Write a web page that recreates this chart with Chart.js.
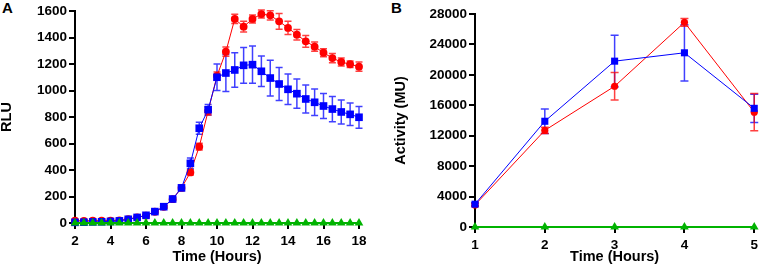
<!DOCTYPE html>
<html>
<head>
<meta charset="utf-8">
<script src="https://cdn.jsdelivr.net/npm/chart.js@4"></script>
<style>
  body { margin: 0; background: #fff; width: 762px; height: 270px; position: relative; overflow: hidden; }
  .panel { position: absolute; top: 0; }
  .letter { position: absolute; font: bold 15px "Liberation Sans", Arial, sans-serif; color: #000; }
</style>
</head>
<body>
<div class="letter" style="left:2px;top:-1px;">A</div>
<div class="letter" style="left:391px;top:-1px;">B</div>
<canvas id="chartA" class="panel" style="left:0px" width="385" height="270"></canvas>
<canvas id="chartB" class="panel" style="left:390px" width="372" height="270"></canvas>
<script>
// Panel A data (RLU over time)
const hoursA = [2, 2.5, 3, 3.5, 4, 4.5, 5, 5.5, 6, 6.5, 7, 7.5, 8, 8.5, 9, 9.5, 10, 10.5, 11, 11.5, 12, 12.5, 13, 13.5, 14, 14.5, 15, 15.5, 16, 16.5, 17, 17.5, 18];
const redA = [18, 16, 18, 17, 18, 20, 30, 42, 56, 85, 122, 180, 265, 382, 576, 845, 1110, 1293, 1540, 1482, 1540, 1577, 1567, 1522, 1472, 1421, 1371, 1331, 1285, 1245, 1215, 1198, 1180];
const redErrA = [5, 5, 5, 5, 5, 5, 5, 5, 5, 8, 10, 12, 15, 20, 25, 30, 30, 35, 35, 40, 30, 30, 35, 60, 50, 40, 45, 35, 30, 35, 30, 25, 35];
const blueA = [5, 6, 8, 9, 12, 16, 28, 42, 58, 86, 123, 181, 265, 450, 715, 855, 1100, 1132, 1155, 1190, 1195, 1145, 1094, 1049, 1009, 976, 936, 911, 883, 860, 838, 820, 798];
const blueErrA = [3, 3, 3, 3, 3, 3, 5, 5, 5, 8, 10, 12, 20, 40, 45, 40, 100, 140, 130, 135, 140, 115, 135, 125, 115, 110, 105, 100, 95, 95, 90, 85, 82];
const greenA = [0, 0, 0, 0, 0, 0, 0, 0, 0, 0, 0, 0, 0, 0, 0, 0, 0, 0, 0, 0, 0, 0, 0, 0, 0, 0, 0, 0, 0, 0, 0, 0, 0];

// Panel B data (activity over time)
const hoursB = [1, 2, 3, 4, 5];
const redB = [2900, 12700, 18500, 26900, 15100];
const redErrB = [200, 400, 1800, 500, 2450];
const blueB = [3000, 13900, 21800, 22900, 15600];
const blueErrB = [200, 1600, 3400, 3700, 1850];
const greenB = [0, 0, 0, 0, 0];

const RED = '#ff0000';
const BLUE = '#0000ff';
const GREEN = '#00b300';
const FONT = '"Liberation Sans", Arial, sans-serif';

// draws vertical error bars with caps under the markers
const errorBars = {
  id: 'errorBars',
  beforeDatasetsDraw(chart) {
    const ctx = chart.ctx;
    const yScale = chart.scales.y;
    chart.data.datasets.forEach((ds, i) => {
      if (!ds.errors) return;
      const meta = chart.getDatasetMeta(i);
      ctx.save();
      ctx.strokeStyle = ds.errorColor;
      ctx.lineWidth = 1.5;
      meta.data.forEach((pt, j) => {
        const e = ds.errors[j];
        if (!e) return;
        const v = ds.values[j];
        const top = yScale.getPixelForValue(v + e);
        const bot = yScale.getPixelForValue(v - e);
        const w = ds.capHalf;
        ctx.beginPath();
        ctx.moveTo(pt.x, top); ctx.lineTo(pt.x, bot);
        ctx.moveTo(pt.x - w, top); ctx.lineTo(pt.x + w, top);
        ctx.moveTo(pt.x - w, bot); ctx.lineTo(pt.x + w, bot);
        ctx.stroke();
      });
      ctx.restore();
    });
  }
};

const toPoints = (xs, ys) => xs.map((x, i) => ({ x: x, y: ys[i] }));

function series(xs, ys, errs, color, style, radius, capHalf) {
  return {
    data: toPoints(xs, ys),
    values: ys,
    errors: errs,
    errorColor: color === RED ? 'rgba(255,0,0,0.75)' : 'rgba(0,0,255,0.75)',
    capHalf: capHalf,
    borderColor: color,
    backgroundColor: color,
    borderWidth: 1,
    pointStyle: style,
    pointRadius: radius,
    pointBorderWidth: 0,
    pointHoverRadius: radius,
    tension: 0,
    clip: false
  };
}

function greenSeries(xs, ys) {
  return {
    data: toPoints(xs, ys),
    borderColor: GREEN,
    backgroundColor: GREEN,
    borderWidth: 2,
    pointStyle: 'triangle',
    pointRadius: 5,
    pointBorderWidth: 0,
    tension: 0,
    clip: false
  };
}

function axis(min, max, step, titleText, fit, titlePad) {
  return {
    type: 'linear',
    min: min,
    max: max,
    ticks: {
      stepSize: step,
      color: '#000',
      font: { family: FONT, size: 13.5, weight: 'bold' },
      padding: fit.tickPad,
      callback: v => String(v)
    },
    grid: { drawOnChartArea: false, color: '#000', lineWidth: 2, tickLength: 6, tickWidth: 2 },
    border: { display: true, color: '#000', width: 2 },
    title: { display: true, text: titleText, color: '#000', font: { family: FONT, size: 14.5, weight: 'bold', lineHeight: 1 }, padding: titlePad },
    afterFit: fit.fn
  };
}

function makeOptions(xAx, yAx, pad) {
  return {
    responsive: false,
    animation: false,
    layout: { padding: pad },
    plugins: { legend: { display: false }, tooltip: { enabled: false } },
    scales: { x: xAx, y: yAx }
  };
}

// Panel A
new Chart(document.getElementById('chartA').getContext('2d'), {
  type: 'line',
  data: {
    datasets: [
      greenSeries(hoursA, greenA),
      series(hoursA, blueA, blueErrA, BLUE, 'rect', 5.4, 3.5),
      series(hoursA, redA, redErrA, RED, 'circle', 3.9, 3.5)
    ]
  },
  options: makeOptions(
    axis(2, 18, 2, 'Time (Hours)', { tickPad: 4, fn: s => { s.height = 47; } }, { top: 0, bottom: 6 }),
    axis(0, 1600, 200, 'RLU', { tickPad: 2, fn: s => { s.width = 75; } }, { top: 0, bottom: 0 }),
    { top: 11, right: 26, left: 0, bottom: 0 }
  ),
  plugins: [errorBars]
});

// Panel B
new Chart(document.getElementById('chartB').getContext('2d'), {
  type: 'line',
  data: {
    datasets: [
      greenSeries(hoursB, greenB),
      series(hoursB, blueB, blueErrB, BLUE, 'rect', 5, 4),
      series(hoursB, redB, redErrB, RED, 'circle', 3.6, 4)
    ]
  },
  options: makeOptions(
    axis(1, 5, 1, 'Time (Hours)', { tickPad: 4, fn: s => { s.height = 43; } }, { top: 0, bottom: 6 }),
    axis(0, 28000, 4000, 'Activity (MU)', { tickPad: 2, fn: s => { s.width = 85; } }, { top: 4, bottom: 0 }),
    { top: 14, right: 4, left: 0, bottom: 0 }
  ),
  plugins: [errorBars]
});
</script>
</body>
</html>
